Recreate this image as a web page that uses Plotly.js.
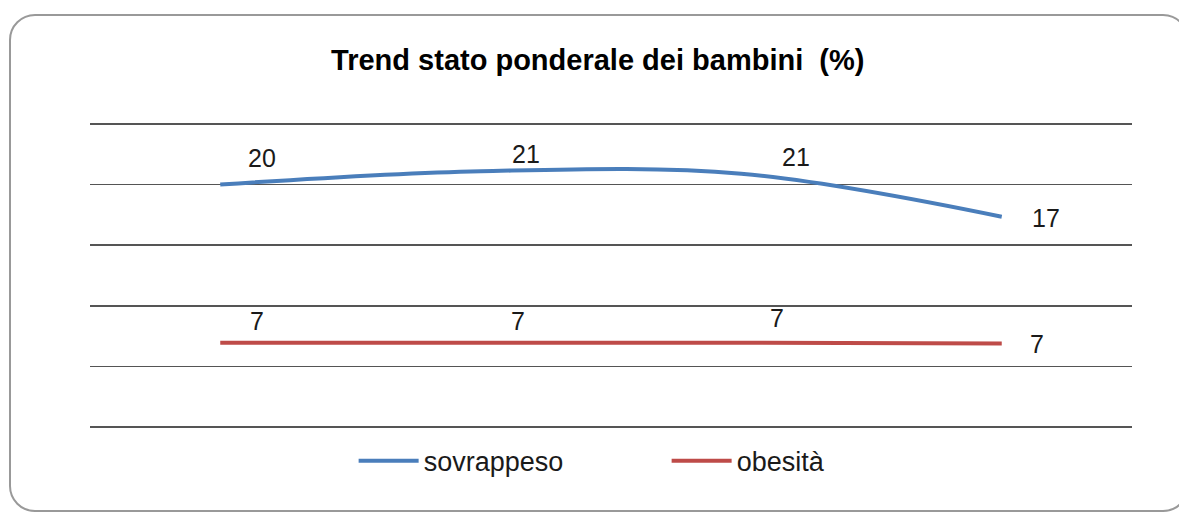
<!DOCTYPE html>
<html>
<head>
<meta charset="utf-8">
<script src="https://cdn.plot.ly/plotly-3.0.1.min.js"></script>
<style>
html,body{margin:0;padding:0;width:1179px;height:512px;overflow:hidden;background:#fff;}
#frame{position:absolute;left:9px;top:14px;width:1180px;height:498px;border:2px solid #999;border-radius:26px;box-sizing:border-box;}
#chart{position:absolute;left:0;top:0;width:1179px;height:512px;}
</style>
</head>
<body>
<div id="frame"></div>
<div id="chart"></div>
<script>
const categories = ['A', 'B', 'C', 'D'];
const sovrappeso = [20.0, 21.1, 20.9, 17.35];
const obesita = [6.95, 6.95, 6.95, 6.9];
const seriesNames = ['sovrappeso', 'obesità'];
const chartTitle = 'Trend stato ponderale dei bambini&nbsp;&nbsp;(%)';

const blue = '#4a7ebb';
const red = '#be4b48';
const font = 'Liberation Sans, Arial, sans-serif';

const traces = [
  {x: categories, y: sovrappeso, name: seriesNames[0], type: 'scatter', mode: 'lines',
   line: {color: blue, width: 4, shape: 'spline', smoothing: 1}, hoverinfo: 'none'},
  {x: categories, y: obesita, name: seriesNames[1], type: 'scatter', mode: 'lines',
   line: {color: red, width: 4, shape: 'spline', smoothing: 1}, hoverinfo: 'none'}
];

// label offsets (px) relative to each point
const blueShift = [[42, 27], [45, 17], [55, 17], [44, -1]];
const redShift = [[37, 22], [37, 22], [36, 25], [35, -1]];
const annotations = [];
categories.forEach((c, i) => {
  annotations.push({x: i, y: sovrappeso[i], xref: 'x', yref: 'y', text: String(Math.round(sovrappeso[i])),
    showarrow: false, xshift: blueShift[i][0], yshift: blueShift[i][1],
    font: {family: font, size: 25, color: '#1a1a1a'}});
  annotations.push({x: i, y: obesita[i], xref: 'x', yref: 'y', text: String(Math.round(obesita[i])),
    showarrow: false, xshift: redShift[i][0], yshift: redShift[i][1],
    font: {family: font, size: 25, color: '#1a1a1a'}});
});

const layout = {
  width: 1179, height: 512,
  paper_bgcolor: 'rgba(0,0,0,0)', plot_bgcolor: 'rgba(0,0,0,0)',
  margin: {l: 90, r: 47, t: 122, b: 83},
  title: {text: '<b>' + chartTitle + '</b>', x: 0.507, xanchor: 'center', y: 0.883, yanchor: 'middle',
    font: {family: font, size: 29, color: '#000'}},
  xaxis: {type: 'category', range: [-0.5, 3.5], showgrid: false, zeroline: false, showline: false,
    showticklabels: false, ticks: ''},
  yaxis: {range: [-0.16, 25.16], tick0: 0, dtick: 5, showgrid: true, gridcolor: '#555', gridwidth: 1.6,
    zeroline: false, showline: false, showticklabels: false, ticks: ''},
  showlegend: true,
  legend: {orientation: 'h', x: 0.253, xanchor: 'left', y: -0.105, yanchor: 'middle',
    font: {family: font, size: 27, color: '#1a1a1a'}, entrywidth: 238, entrywidthmode: 'pixels',
    itemwidth: 60, bgcolor: 'rgba(0,0,0,0)'},
  annotations: annotations
};

Plotly.newPlot('chart', traces, layout, {staticPlot: true, displayModeBar: false});
</script>
</body>
</html>
